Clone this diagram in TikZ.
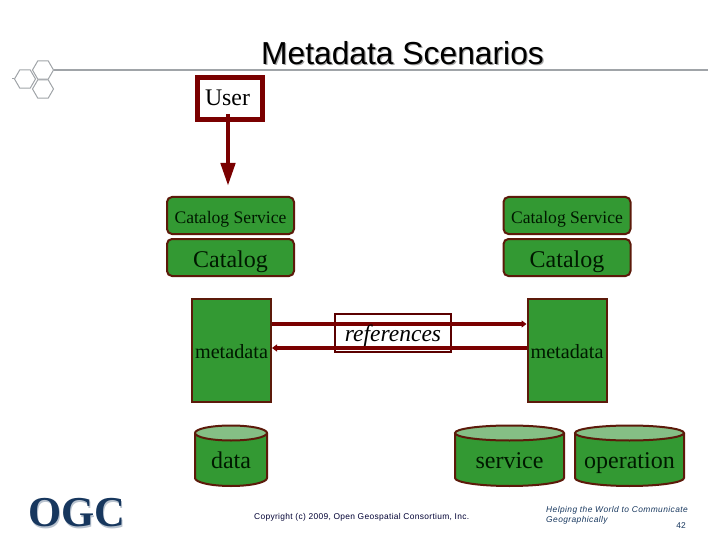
\documentclass[tikz,border=0pt]{standalone}
\usepackage{fontspec}
\setmainfont{Liberation Serif}
\setsansfont{Liberation Sans}
\usetikzlibrary{arrows.meta,calc,shapes.geometric}
\definecolor{boxgreen}{HTML}{339933}
\definecolor{topgreen}{HTML}{85BF85}
\definecolor{edgebrown}{HTML}{5C1A0A}
\definecolor{maroon}{HTML}{7A0000}
\definecolor{navy}{HTML}{17375E}
\definecolor{rulegray}{HTML}{A0A4A8}
\newcommand{\fs}[1]{\fontsize{#1}{#1}\selectfont}
\newcommand{\lowered}[2]{\raisebox{-#1pt}[0pt][0pt]{#2}}
\newcommand{\cylbox}[4]{% name, x0, x1, text
  \fill[boxgreen] (#2,433) -- (#2,478) arc[start angle=180,end angle=0,x radius={(#3-#2)/2},y radius=8] -- (#3,433) -- cycle;
  \draw[edgebrown,line width=2] (#2,433) -- (#2,478) arc[start angle=180,end angle=0,x radius={(#3-#2)/2},y radius=8] -- (#3,433);
  \draw[edgebrown,fill=topgreen,line width=2] ({(#2+#3)/2},433) ellipse[x radius={(#3-#2)/2},y radius=7.5];
  \node[cyltext] (#1) at ({(#2+#3)/2},468) {#4};
}
\tikzset{
  x=1pt,y=-1pt,
  greenbox/.style={draw=edgebrown,fill=boxgreen,line width=2,inner sep=0pt,text=black!90!green},
  servicebox/.style={greenbox,rounded corners=5,minimum width=127,minimum height=37,font=\fs{17.6}},
  catalogbox/.style={greenbox,rounded corners=5,minimum width=127,minimum height=37,font=\fs{24}},
  metabox/.style={greenbox,minimum width=79,minimum height=103,font=\fs{20.2}},
  cyltext/.style={anchor=base,inner sep=0pt,font=\fs{24},text=black!90!green},
  hex/.style={draw=rulegray,line width=1,regular polygon,regular polygon sides=6,shape border rotate=0,minimum size=21,inner sep=0pt},
  bigarrow/.style={maroon,line width=4.5,-{Triangle[length=23,width=14]}},
  refarrow/.style={maroon,line width=3.6,-{Triangle[length=5,width=7]}},
  small/.style={anchor=base west,inner sep=0pt},
}
\begin{document}
\begin{tikzpicture}
\useasboundingbox (0,0) rectangle (720,540);
% header rule and hexagons
\node[hex] (hexa) at (43,70) {};
\node[hex] (hexb) at (25,79) {};
\node[hex] (hexc) at (43,89) {};
\coordinate (ruleend) at (708,70);
\coordinate (tickend) at (12,79);
\draw[rulegray,line width=1.1] (hexa.east) -- (ruleend);
\draw[rulegray,line width=1] (hexb.west) -- (tickend);
% title
\node[anchor=base,inner sep=0pt,text=black!35,font=\sffamily\fs{31.8}] at (403.7,65.5) {Metadata Scenarios};
\node[anchor=base,inner sep=0pt,font=\sffamily\fs{31.8}] (title) at (402.5,64.5) {Metadata Scenarios};
% user
\node[draw=maroon,fill=white,line width=5,minimum width=65,minimum height=42,inner sep=0pt] (user) at (230,98.5) {};
\node[anchor=base,inner sep=0pt,font=\fs{23.8}] (usertext) at (227.5,105.5) {User};
% catalog columns
\node[servicebox] (csl) at (230.5,215.5) {\lowered{8}{Catalog Service}};
\node[catalogbox] (cl) at (230.5,257.5) {\lowered{10}{Catalog}};
\node[servicebox] (csr) at (567,215.5) {\lowered{8}{Catalog Service}};
\node[catalogbox] (cr) at (567,257.5) {\lowered{10}{Catalog}};
\coordinate (userdrop) at (228,114);
\coordinate (usertip) at (228,186);
\draw[bigarrow] (userdrop) -- (usertip);
% metadata
\node[metabox] (ml) at (231.5,350.5) {\lowered{7.5}{metadata}};
\node[metabox] (mr) at (567,350.5) {\lowered{7.5}{metadata}};
% references
\node[draw=maroon!75!black,fill=white,line width=1.2,minimum width=116,minimum height=38,inner sep=0pt] (refbox) at (393,333) {};
\coordinate (upper) at (0,324);
\coordinate (lower) at (0,348);
\draw[refarrow] (ml.east |- upper) -- (mr.west |- upper);
\draw[refarrow] (mr.west |- lower) -- (ml.east |- lower);
\node[anchor=base,inner sep=0pt,font=\itshape\fs{23.5}] (reftext) at (393,341) {references};
% cylinders
\cylbox{data}{195}{267}{data}
\cylbox{service}{455}{564}{service}
\cylbox{operation}{575}{684}{operation}
% footer
\node[anchor=base,inner sep=0pt,font=\rmfamily\bfseries\fs{42.6},text=navy!30] at (77.7,528) {OGC};
\node[anchor=base,inner sep=0pt,font=\rmfamily\bfseries\fs{42.6},text=navy] (ogc) at (77,526) {OGC};
\node[small,font=\sffamily\fs{8.4}\addfontfeature{LetterSpace=3.9},text=black!80!blue] (copy) at (254,519) {Copyright (c) 2009, Open Geospatial Consortium, Inc.};
\node[small,font=\sffamily\itshape\fs{8.4}\addfontfeature{LetterSpace=5},text=navy] (help1) at (546,512) {Helping the World to Communicate};
\node[small,font=\sffamily\itshape\fs{8.4}\addfontfeature{LetterSpace=5},text=navy] (help2) at (546,522) {Geographically};
\node[anchor=base,inner sep=0pt,font=\sffamily\fs{8.4},text=navy] (page) at (681,528) {42};
\end{tikzpicture}
\end{document}
